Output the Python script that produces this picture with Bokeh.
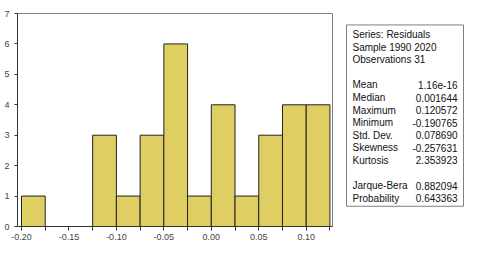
from bokeh.plotting import figure
from bokeh.layouts import row
from bokeh.models import Range1d, FixedTicker, PrintfTickFormatter
from bokeh.core.properties import value
from bokeh.embed import file_html
from bokeh.resources import INLINE

# ---- data ----
bin_left = [-0.200, -0.175, -0.150, -0.125, -0.100, -0.075, -0.050,
            -0.025, 0.000, 0.025, 0.050, 0.075, 0.100]
bin_right = [-0.175, -0.150, -0.125, -0.100, -0.075, -0.050, -0.025,
             0.000, 0.025, 0.050, 0.075, 0.100, 0.125]
counts = [1, 0, 0, 3, 1, 3, 6, 1, 4, 1, 3, 4, 4]

x_ticks = [-0.20, -0.15, -0.10, -0.05, 0.0, 0.05, 0.10]
x_minor = [-0.175, -0.125, -0.075, -0.025, 0.025, 0.075, 0.125]
y_ticks = [0, 1, 2, 3, 4, 5, 6, 7]

header_lines = ["Series: Residuals", "Sample 1990 2020", "Observations 31"]
stat_names = ["Mean", "Median", "Maximum", "Minimum", "Std. Dev.", "Skewness", "Kurtosis",
              "", "Jarque-Bera", "Probability"]
stat_values = ["1.16e-16", "0.001644", "0.120572", "-0.190765", "0.078690", "-0.257631",
               "2.353923", "", "0.882094", "0.643363"]

BAR = "#DFCF63"
TICKFONT = "Liberation Sans"
BOXFONT = "Liberation Sans"

# ---- histogram ----
p = figure(width=338, height=242, output_backend="svg", toolbar_location=None,
           x_range=Range1d(-0.2042, 0.1277), y_range=Range1d(0, 7),
           min_border_left=17, min_border_right=6, min_border_top=13, min_border_bottom=0)
p.quad(left=bin_left, right=bin_right, bottom=0, top=counts,
       fill_color=BAR, line_color="#222222", line_width=1)
p.xgrid.visible = False
p.ygrid.visible = False
p.outline_line_color = "#808080"
p.outline_line_width = 1
p.background_fill_color = "white"
p.border_fill_color = "white"

xa = p.xaxis[0]
xa.ticker = FixedTicker(ticks=x_ticks, minor_ticks=x_minor)
xa.formatter = PrintfTickFormatter(format="%.2f")
xa.major_tick_out = 4
xa.major_tick_in = 0
xa.minor_tick_out = 4
xa.minor_tick_in = 0
xa.axis_line_color = "#333333"
xa.major_tick_line_color = "#333333"
xa.minor_tick_line_color = "#333333"
xa.major_label_text_font = TICKFONT
xa.major_label_text_font_size = "9px"
xa.major_label_text_color = "#444444"
xa.major_label_standoff = 3

ya = p.yaxis[0]
ya.ticker = FixedTicker(ticks=y_ticks, minor_ticks=[])
ya.major_tick_out = 3
ya.major_tick_in = 0
ya.axis_line_color = "#333333"
ya.major_tick_line_color = "#333333"
ya.major_label_text_font = TICKFONT
ya.major_label_text_font_size = "9px"
ya.major_label_text_color = "#444444"
ya.major_label_standoff = 5

# ---- statistics box ----
s = figure(width=126, height=242, output_backend="svg", toolbar_location=None,
           x_range=Range1d(0, 126), y_range=Range1d(242, 0),
           min_border=0, x_axis_type=None, y_axis_type=None)
s.outline_line_color = None
s.xgrid.visible = False
s.ygrid.visible = False

box_l, box_r, box_t, box_b = 8, 125, 13, 219
s.quad(left=[box_l], right=[box_r], top=[box_t], bottom=[box_b],
       fill_color="white", line_color="#808080", line_width=1)

FS = value("10px")
step = 14.3
y0 = box_t + 11
hy = [y0 + step * i for i in range(len(header_lines))]
s.text(x=[box_l + 6] * len(header_lines), y=hy, text=header_lines,
       text_font=value(BOXFONT), text_font_size=FS,
       text_baseline="middle", text_align="left", text_color="#111111")

sy = [y0 + step * (4 + i) for i in range(len(stat_names))]
s.text(x=[box_l + 6] * len(stat_names), y=sy, text=stat_names,
       text_font=value(BOXFONT), text_font_size=FS,
       text_baseline="middle", text_align="left", text_color="#111111")
s.text(x=[box_r - 6] * len(stat_values), y=sy, text=stat_values,
       text_font=value(BOXFONT), text_font_size=FS,
       text_baseline="middle", text_align="right", text_color="#111111")

layout = row(p, s)
open("out.html", "w").write(file_html(layout, INLINE))
